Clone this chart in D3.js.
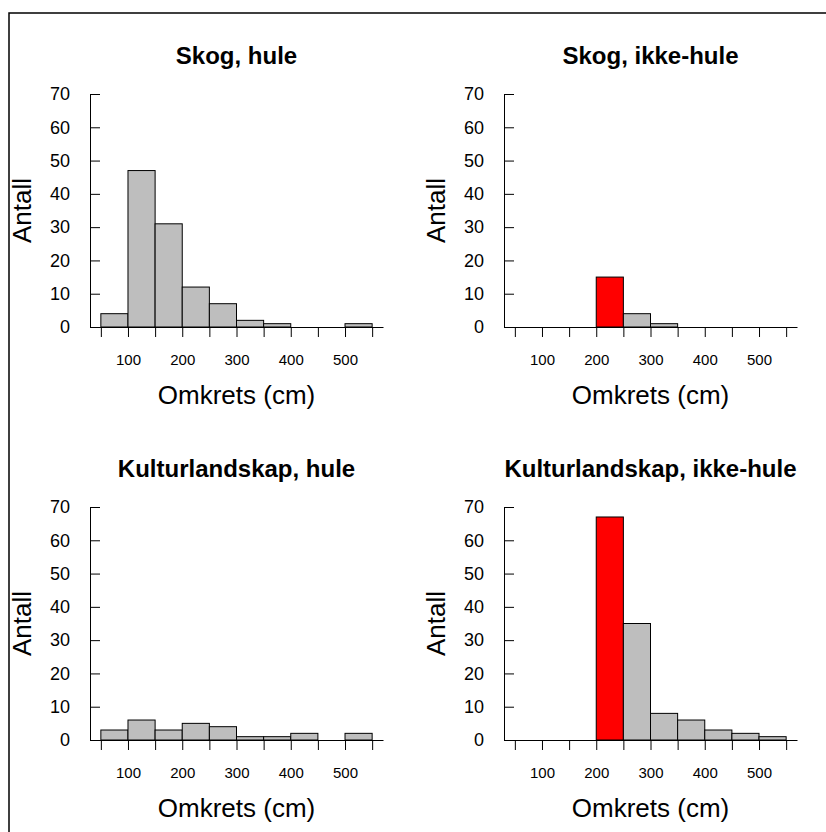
<!DOCTYPE html>
<html>
<head>
<meta charset="utf-8">
<script src="https://cdn.jsdelivr.net/npm/d3@7"></script>
<style>
  body { margin: 0; background: #fff; }
  svg { display: block; }
  svg text { font-family: "Liberation Sans", Arial, sans-serif; }
</style>
</head>
<body>
<div id="chart"></div>
<script>
// bin edges (cm) and counts per panel
const binEdges = [50, 100, 150, 200, 250, 300, 350, 400, 450, 500, 550];
const xLabels = [100, 200, 300, 400, 500];
const yTicks = [0, 10, 20, 30, 40, 50, 60, 70];

const titles = ["Skog, hule", "Skog, ikke-hule", "Kulturlandskap, hule", "Kulturlandskap, ikke-hule"];
const skogHule = [4, 47, 31, 12, 7, 2, 1, 0, 0, 1];
const skogIkkeHule = [0, 0, 0, 15, 4, 1, 0, 0, 0, 0];
const kulturHule = [3, 6, 3, 5, 4, 1, 1, 2, 0, 2];
const kulturIkkeHule = [0, 0, 0, 67, 35, 8, 6, 3, 2, 1];
// which bin is highlighted in red (-1 = none)
const highlight = [-1, 3, -1, 3];

const counts = [skogHule, skogIkkeHule, kulturHule, kulturIkkeHule];

const W = 826, H = 832;
const svg = d3.select("#chart").append("svg")
    .attr("width", W)
    .attr("height", H);

svg.append("rect").attr("width", W).attr("height", H).attr("fill", "#fff");

// outer frame (only left & top visible)
svg.append("path")
   .attr("d", "M9,832V13H826")
   .attr("fill", "none")
   .attr("stroke", "#000")
   .attr("stroke-width", 1.5);

const offX = [0, 414, 0, 414];
const offY = [0, 0, 413, 413];

counts.forEach((vals, i) => {
    const g = svg.append("g")
        .attr("transform", `translate(${offX[i]},${offY[i]})`);

    const x = d3.scaleLinear().domain([30, 570]).range([90, 383]);
    const y = d3.scaleLinear().domain([0, 70]).range([327, 94]);

    const bins = vals.map((v, j) => ({ x0: binEdges[j], x1: binEdges[j + 1], n: v, j: j }));

    // bars
    g.selectAll(".bar")
     .data(bins)
     .enter().append("rect")
     .attr("class", "bar")
     .attr("x", d => x(d.x0))
     .attr("y", d => y(d.n))
     .attr("width", d => x(d.x1) - x(d.x0))
     .attr("height", d => y(0) - y(d.n))
     .attr("fill", d => d.j === highlight[i] ? "#ff0000" : "#bebebe")
     .attr("stroke", "#000")
     .attr("stroke-width", 1);

    // x axis
    const xa = g.append("g")
     .attr("transform", `translate(0,${y(0)})`)
     .call(d3.axisBottom(x)
        .tickValues(binEdges)
        .tickSizeInner(10)
        .tickSizeOuter(0)
        .tickPadding(17)
        .tickFormat(d => xLabels.includes(d) ? d : ""));
    xa.attr("font-family", null).attr("font-size", 15);
    xa.selectAll("text").attr("fill", "#000");
    xa.selectAll("line, path").attr("stroke", "#000");

    // y axis, ticks pointing inward
    const ya = g.append("g")
     .attr("transform", `translate(${x(30)},0)`)
     .call(d3.axisLeft(y)
        .tickValues(yTicks)
        .tickSizeInner(-10)
        .tickSizeOuter(0)
        .tickPadding(20));
    ya.attr("font-family", null).attr("font-size", 18);
    ya.selectAll("text").attr("fill", "#000");
    ya.selectAll("line, path").attr("stroke", "#000");

    // title
    g.append("text")
     .attr("x", (x(30) + x(570)) / 2)
     .attr("y", 64)
     .attr("text-anchor", "middle")
     .style("font-size", "24px")
     .style("font-weight", "bold")
     .text(titles[i]);

    // x title
    g.append("text")
     .attr("x", (x(30) + x(570)) / 2)
     .attr("y", 404)
     .attr("text-anchor", "middle")
     .style("font-size", "26px")
     .text("Omkrets (cm)");

    // y title
    g.append("text")
     .attr("transform", `translate(31,${(y(0) + y(70)) / 2}) rotate(-90)`)
     .attr("text-anchor", "middle")
     .style("font-size", "26px")
     .text("Antall");
});
</script>
</body>
</html>
